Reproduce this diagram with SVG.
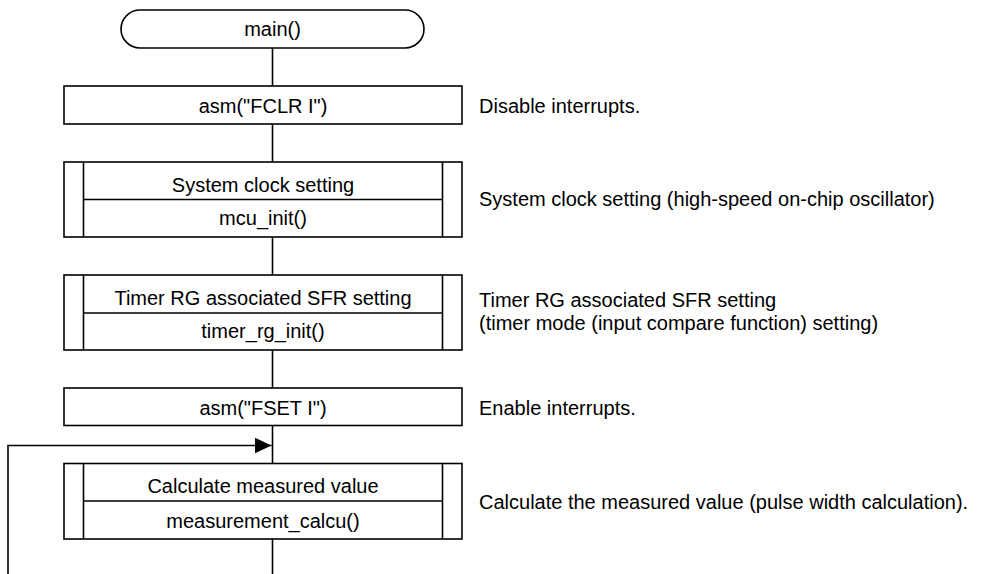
<svg xmlns="http://www.w3.org/2000/svg" width="1003" height="574" viewBox="0 0 1003 574">
<defs>
<style>
.s{fill:#fff;stroke:#000;stroke-width:1.6}
.l{fill:none;stroke:#000;stroke-width:1.6}
text{font-family:"Liberation Sans",Arial,sans-serif;font-size:20px;fill:#000}
.c{text-anchor:middle}
</style>
<marker id="ah" markerWidth="17" markerHeight="16" refX="17" refY="8" orient="auto" markerUnits="userSpaceOnUse">
<path d="M0,0 L17,8 L0,16 Z" fill="#000"/>
</marker>
</defs>
<rect width="1003" height="574" fill="#fff"/>
<g id="connectors">
<line class="l" x1="272.5" y1="48" x2="272.5" y2="86"/>
<line class="l" x1="272.5" y1="124" x2="272.5" y2="162"/>
<line class="l" x1="272.5" y1="237" x2="272.5" y2="275"/>
<line class="l" x1="272.5" y1="350" x2="272.5" y2="388"/>
<line class="l" x1="272.5" y1="425.5" x2="272.5" y2="463.5"/>
<line class="l" x1="272.5" y1="539" x2="272.5" y2="574"/>
<polyline class="l" points="8,574 8,445.5 271.5,445.5" marker-end="url(#ah)"/>
</g>
<g id="start">
<rect class="s" x="121" y="10" width="303" height="38" rx="19" ry="19"/>
<text class="c" x="272.5" y="36">main()</text>
</g>
<g id="fclr">
<rect class="s" x="64" y="86" width="398" height="38"/>
<text class="c" x="263" y="113">asm("FCLR I")</text>
<text x="479" y="112.5">Disable interrupts.</text>
</g>
<g id="mcuinit">
<rect class="s" x="64" y="162" width="398" height="75"/>
<line class="l" x1="83.5" y1="162" x2="83.5" y2="237"/>
<line class="l" x1="442.5" y1="162" x2="442.5" y2="237"/>
<line class="l" x1="83.5" y1="199.5" x2="442.5" y2="199.5"/>
<text class="c" x="263" y="191.5">System clock setting</text>
<text class="c" x="263" y="225">mcu_init()</text>
<text x="479" y="206">System clock setting (high-speed on-chip oscillator)</text>
</g>
<g id="timerinit">
<rect class="s" x="64" y="275" width="398" height="75"/>
<line class="l" x1="83.5" y1="275" x2="83.5" y2="350"/>
<line class="l" x1="442.5" y1="275" x2="442.5" y2="350"/>
<line class="l" x1="83.5" y1="313" x2="442.5" y2="313"/>
<text class="c" x="263" y="304.5">Timer RG associated SFR setting</text>
<text class="c" x="263" y="337.5">timer_rg_init()</text>
<text x="479" y="306.5">Timer RG associated SFR setting</text>
<text x="479" y="329.5">(timer mode (input compare function) setting)</text>
</g>
<g id="fset">
<rect class="s" x="64" y="388" width="398" height="37.5"/>
<text class="c" x="263" y="415">asm("FSET I")</text>
<text x="479" y="414.5">Enable interrupts.</text>
</g>
<g id="calcu">
<rect class="s" x="64" y="463.5" width="398" height="75.5"/>
<line class="l" x1="83.5" y1="463.5" x2="83.5" y2="539"/>
<line class="l" x1="442.5" y1="463.5" x2="442.5" y2="539"/>
<line class="l" x1="83.5" y1="501" x2="442.5" y2="501"/>
<text class="c" x="263" y="492.5">Calculate measured value</text>
<text class="c" x="263" y="527.5">measurement_calcu()</text>
<text x="479" y="509">Calculate the measured value (pulse width calculation).</text>
</g>
</svg>
